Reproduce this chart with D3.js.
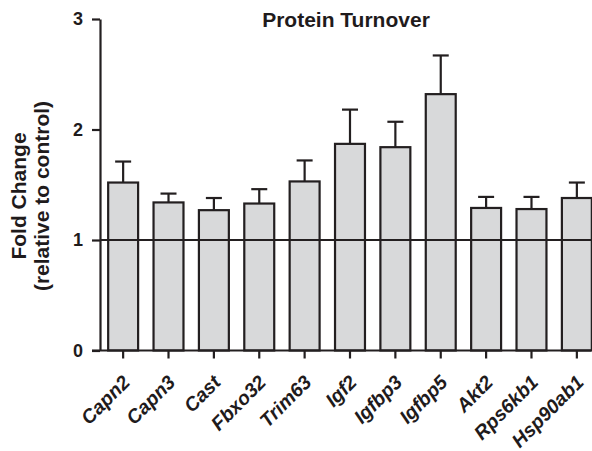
<!DOCTYPE html>
<html lang="en">
<head>
  <meta charset="UTF-8">
  <title>Protein Turnover</title>
  <script src="https://d3js.org/d3.v7.min.js"></script>
  <style>
    body { margin: 0; background: white; }
    svg { display: block; font-family: "Liberation Sans", Arial, Helvetica, sans-serif; }
    .bar { fill: #d8d9da; stroke: #231f20; stroke-width: 2.2; }
    .err { stroke: #231f20; stroke-width: 2.2; fill: none; }
    .axis path, .axis line { stroke: #231f20; stroke-width: 2.2; }
    .axis text { font-size: 18px; font-weight: bold; fill: #1f1b1c; }
    .xlabel { font-size: 19.5px; font-weight: bold; font-style: italic; fill: #1f1b1c; }
    .title { font-size: 21px; font-weight: bold; fill: #1f1b1c; }
    .ylab { font-size: 21px; font-weight: bold; fill: #1f1b1c; }
  </style>
</head>
<body>
<div id="chart"></div>
<script>
  // data
  const genes = ["Capn2", "Capn3", "Cast", "Fbxo32", "Trim63", "Igf2", "Igfbp3", "Igfbp5", "Akt2", "Rps6kb1", "Hsp90ab1"];
  const foldChange = [1.52, 1.34, 1.27, 1.33, 1.53, 1.87, 1.84, 2.32, 1.29, 1.28, 1.38];
  const sem = [0.19, 0.08, 0.11, 0.13, 0.19, 0.31, 0.23, 0.35, 0.10, 0.11, 0.14];
  const yTicks = [0, 1, 2, 3];

  const width = 592, height = 451;
  const plotLeft = 100, plotRight = 600, plotTop = 19, plotBottom = 350.5;

  const svg = d3.select("#chart").append("svg")
    .attr("width", width)
    .attr("height", height);

  const x = d3.scaleBand()
    .domain(genes)
    .range([plotLeft, plotRight])
    .paddingInner(0.34)
    .paddingOuter(0.18);

  const y = d3.scaleLinear()
    .domain([0, 3])
    .range([plotBottom, plotTop]);

  const rows = genes.map((g, i) => ({ gene: g, value: foldChange[i], err: sem[i] }));

  // bars
  svg.selectAll("rect.bar")
    .data(rows)
    .enter()
    .append("rect")
    .attr("class", "bar")
    .attr("x", d => x(d.gene))
    .attr("y", d => y(d.value))
    .attr("width", x.bandwidth())
    .attr("height", d => y(0) - y(d.value));

  // error bars (upper only)
  const capHalf = 8;
  const errG = svg.selectAll("g.errbar")
    .data(rows)
    .enter()
    .append("g")
    .attr("class", "errbar");
  errG.append("line")
    .attr("class", "err")
    .attr("x1", d => x(d.gene) + x.bandwidth() / 2)
    .attr("x2", d => x(d.gene) + x.bandwidth() / 2)
    .attr("y1", d => y(d.value))
    .attr("y2", d => y(d.value + d.err));
  errG.append("line")
    .attr("class", "err")
    .attr("x1", d => x(d.gene) + x.bandwidth() / 2 - capHalf)
    .attr("x2", d => x(d.gene) + x.bandwidth() / 2 + capHalf)
    .attr("y1", d => y(d.value + d.err))
    .attr("y2", d => y(d.value + d.err));

  // reference line at 1
  svg.append("line")
    .attr("class", "err")
    .attr("x1", plotLeft)
    .attr("x2", width - 1)
    .attr("y1", y(1))
    .attr("y2", y(1));

  // y axis
  svg.append("g")
    .attr("class", "axis")
    .attr("transform", `translate(${plotLeft},0)`)
    .call(d3.axisLeft(y).tickValues(yTicks).tickFormat(d3.format("d")).tickSize(8).tickSizeOuter(0).tickPadding(9));

  // x axis
  const xAxis = svg.append("g")
    .attr("class", "axis")
    .attr("transform", `translate(0,${y(0)})`)
    .call(d3.axisBottom(x).tickSize(8).tickSizeOuter(0).tickFormat(""));
  xAxis.select(".domain").remove();
  xAxis.append("line")
    .attr("x1", plotLeft - 8)
    .attr("x2", width - 1)
    .attr("y1", 0)
    .attr("y2", 0);

  // rotated gene labels
  svg.selectAll("text.xlabel")
    .data(genes)
    .enter()
    .append("text")
    .attr("class", "xlabel")
    .attr("text-anchor", "end")
    .attr("transform", d => `translate(${x(d) + x.bandwidth() / 2 + 8},${y(0) + 33}) rotate(-45)`)
    .text(d => d);

  // title
  svg.append("text")
    .attr("class", "title")
    .attr("x", 346)
    .attr("y", 27)
    .attr("text-anchor", "middle")
    .text("Protein Turnover");

  // y label
  const ylab = svg.append("text")
    .attr("class", "ylab")
    .attr("text-anchor", "middle")
    .attr("transform", `translate(26,196) rotate(-90)`);
  ylab.append("tspan").attr("x", 0).attr("y", 0).text("Fold Change");
  ylab.append("tspan").attr("x", 0).attr("y", 23).text("(relative to control)");
</script>
</body>
</html>
